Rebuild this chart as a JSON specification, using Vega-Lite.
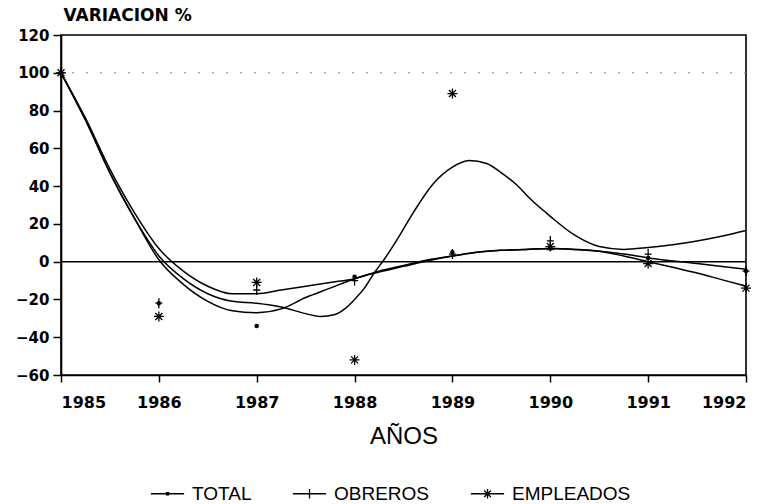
{
  "$schema": "https://vega.github.io/schema/vega-lite/v6.json",
  "width": 685,
  "height": 340,
  "autosize": {"type": "none"},
  "padding": {"left": 61, "top": 35, "right": 29, "bottom": 129},
  "background": "white",
  "config": {
    "view": {"stroke": "black", "strokeWidth": 1.6},
    "font": "DejaVu Sans",
    "axis": {"labelOverlap": false, "grid": false, "domainColor": "black", "domainWidth": 1.6, "tickColor": "black", "tickWidth": 1.5, "labelColor": "black", "titleColor": "black"},
    "axisX": {
      "format": "d",
      "tickSize": 7,
      "labelFont": "DejaVu Sans", "labelFontWeight": "bold", "labelFontSize": 16,
      "labelPadding": 12,
      "titleFont": "Liberation Sans", "titleFontSize": 24, "titleFontWeight": "normal",
      "titlePadding": 14
    },
    "axisY": {
      "labelFlush": false,
      "tickSize": 8,
      "labelFont": "DejaVu Sans", "labelFontWeight": "bold", "labelFontSize": 15,
      "labelPadding": 4,
      "titleFont": "DejaVu Sans", "titleFontSize": 17, "titleFontWeight": "bold",
      "titleAngle": 0, "titleAlign": "left", "titleBaseline": "middle",
      "titleX": 2, "titleY": -20
    }
  },
  "resolve": {"scale": {"shape": "independent"}},
  "datasets": {
    "curves": [
      {"s": "TOTAL", "x": 1985, "y": 100}, {"s": "TOTAL", "x": 1985.25, "y": 76}, {"s": "TOTAL", "x": 1985.5, "y": 49}, {"s": "TOTAL", "x": 1985.75, "y": 26},
      {"s": "TOTAL", "x": 1986, "y": 7}, {"s": "TOTAL", "x": 1986.25, "y": -5}, {"s": "TOTAL", "x": 1986.5, "y": -13}, {"s": "TOTAL", "x": 1986.75, "y": -17},
      {"s": "TOTAL", "x": 1987, "y": -17}, {"s": "TOTAL", "x": 1987.25, "y": -15}, {"s": "TOTAL", "x": 1987.5, "y": -13}, {"s": "TOTAL", "x": 1987.75, "y": -11},
      {"s": "TOTAL", "x": 1988, "y": -9}, {"s": "TOTAL", "x": 1988.25, "y": -5}, {"s": "TOTAL", "x": 1988.5, "y": -2}, {"s": "TOTAL", "x": 1988.75, "y": 1},
      {"s": "TOTAL", "x": 1989, "y": 3}, {"s": "TOTAL", "x": 1989.25, "y": 5}, {"s": "TOTAL", "x": 1989.5, "y": 6}, {"s": "TOTAL", "x": 1989.75, "y": 6.5},
      {"s": "TOTAL", "x": 1990, "y": 7}, {"s": "TOTAL", "x": 1990.25, "y": 6.5}, {"s": "TOTAL", "x": 1990.5, "y": 5.5}, {"s": "TOTAL", "x": 1990.75, "y": 4},
      {"s": "TOTAL", "x": 1991, "y": 2}, {"s": "TOTAL", "x": 1991.5, "y": -1}, {"s": "TOTAL", "x": 1992, "y": -4},
      {"s": "OBREROS", "x": 1985, "y": 100}, {"s": "OBREROS", "x": 1985.25, "y": 75}, {"s": "OBREROS", "x": 1985.5, "y": 47}, {"s": "OBREROS", "x": 1985.75, "y": 23},
      {"s": "OBREROS", "x": 1986, "y": 1}, {"s": "OBREROS", "x": 1986.25, "y": -12}, {"s": "OBREROS", "x": 1986.5, "y": -21}, {"s": "OBREROS", "x": 1986.75, "y": -26},
      {"s": "OBREROS", "x": 1987, "y": -27}, {"s": "OBREROS", "x": 1987.25, "y": -25}, {"s": "OBREROS", "x": 1987.5, "y": -19}, {"s": "OBREROS", "x": 1987.75, "y": -14},
      {"s": "OBREROS", "x": 1988, "y": -9}, {"s": "OBREROS", "x": 1988.25, "y": -5.5}, {"s": "OBREROS", "x": 1988.5, "y": -2.5}, {"s": "OBREROS", "x": 1988.75, "y": 0.5},
      {"s": "OBREROS", "x": 1989, "y": 3}, {"s": "OBREROS", "x": 1989.25, "y": 5}, {"s": "OBREROS", "x": 1989.5, "y": 6}, {"s": "OBREROS", "x": 1989.75, "y": 6.5},
      {"s": "OBREROS", "x": 1990, "y": 7}, {"s": "OBREROS", "x": 1990.25, "y": 6.5}, {"s": "OBREROS", "x": 1990.5, "y": 5.5}, {"s": "OBREROS", "x": 1990.75, "y": 3},
      {"s": "OBREROS", "x": 1991, "y": 0}, {"s": "OBREROS", "x": 1991.25, "y": -3}, {"s": "OBREROS", "x": 1991.5, "y": -6}, {"s": "OBREROS", "x": 1991.75, "y": -9.5},
      {"s": "OBREROS", "x": 1992, "y": -13},
      {"s": "EMPLEADOS", "x": 1985, "y": 100}, {"s": "EMPLEADOS", "x": 1985.25, "y": 75}, {"s": "EMPLEADOS", "x": 1985.5, "y": 47}, {"s": "EMPLEADOS", "x": 1985.75, "y": 23},
      {"s": "EMPLEADOS", "x": 1986, "y": 3}, {"s": "EMPLEADOS", "x": 1986.25, "y": -9}, {"s": "EMPLEADOS", "x": 1986.5, "y": -17}, {"s": "EMPLEADOS", "x": 1986.75, "y": -21},
      {"s": "EMPLEADOS", "x": 1987, "y": -22}, {"s": "EMPLEADOS", "x": 1987.25, "y": -24}, {"s": "EMPLEADOS", "x": 1987.5, "y": -27.5}, {"s": "EMPLEADOS", "x": 1987.65, "y": -29},
      {"s": "EMPLEADOS", "x": 1987.8, "y": -28}, {"s": "EMPLEADOS", "x": 1987.9, "y": -25}, {"s": "EMPLEADOS", "x": 1988, "y": -20}, {"s": "EMPLEADOS", "x": 1988.1, "y": -14},
      {"s": "EMPLEADOS", "x": 1988.2, "y": -6}, {"s": "EMPLEADOS", "x": 1988.3, "y": 1}, {"s": "EMPLEADOS", "x": 1988.45, "y": 13}, {"s": "EMPLEADOS", "x": 1988.6, "y": 26},
      {"s": "EMPLEADOS", "x": 1988.8, "y": 41}, {"s": "EMPLEADOS", "x": 1989, "y": 50}, {"s": "EMPLEADOS", "x": 1989.17, "y": 53.5}, {"s": "EMPLEADOS", "x": 1989.35, "y": 52},
      {"s": "EMPLEADOS", "x": 1989.5, "y": 47}, {"s": "EMPLEADOS", "x": 1989.65, "y": 41}, {"s": "EMPLEADOS", "x": 1989.8, "y": 33}, {"s": "EMPLEADOS", "x": 1990, "y": 24},
      {"s": "EMPLEADOS", "x": 1990.25, "y": 14}, {"s": "EMPLEADOS", "x": 1990.5, "y": 8}, {"s": "EMPLEADOS", "x": 1990.75, "y": 6.5}, {"s": "EMPLEADOS", "x": 1991, "y": 7.5},
      {"s": "EMPLEADOS", "x": 1991.25, "y": 9}, {"s": "EMPLEADOS", "x": 1991.5, "y": 11}, {"s": "EMPLEADOS", "x": 1991.75, "y": 13.5}, {"s": "EMPLEADOS", "x": 1992, "y": 16.5}
    ],
    "points": [
      {"s": "TOTAL", "x": 1985, "y": 100}, {"s": "TOTAL", "x": 1986, "y": -22}, {"s": "TOTAL", "x": 1987, "y": -34}, {"s": "TOTAL", "x": 1988, "y": -8},
      {"s": "TOTAL", "x": 1989, "y": 5}, {"s": "TOTAL", "x": 1990, "y": 7}, {"s": "TOTAL", "x": 1991, "y": 2}, {"s": "TOTAL", "x": 1992, "y": -5},
      {"s": "OBREROS", "x": 1985, "y": 100}, {"s": "OBREROS", "x": 1986, "y": -22}, {"s": "OBREROS", "x": 1987, "y": -15}, {"s": "OBREROS", "x": 1988, "y": -10},
      {"s": "OBREROS", "x": 1989, "y": 4}, {"s": "OBREROS", "x": 1990, "y": 11}, {"s": "OBREROS", "x": 1991, "y": 4}, {"s": "OBREROS", "x": 1992, "y": -5},
      {"s": "EMPLEADOS", "x": 1985, "y": 100}, {"s": "EMPLEADOS", "x": 1986, "y": -29}, {"s": "EMPLEADOS", "x": 1987, "y": -11}, {"s": "EMPLEADOS", "x": 1988, "y": -52},
      {"s": "EMPLEADOS", "x": 1989, "y": 89}, {"s": "EMPLEADOS", "x": 1990, "y": 8}, {"s": "EMPLEADOS", "x": 1991, "y": -1}, {"s": "EMPLEADOS", "x": 1992, "y": -14}
    ],
    "zero": [{"y": 0}],
    "hundred": [{"y": 100}]
  },
  "layer": [
    {
      "data": {"name": "curves"},
      "mark": {"type": "line", "color": "black", "strokeWidth": 1.5, "interpolate": "monotone"},
      "encoding": {
        "x": {
          "field": "x", "type": "quantitative",
          "scale": {"domain": [1985, 1992], "nice": false, "zero": false},
          "title": "AÑOS",
          "axis": {"values": [1985, 1986, 1987, 1988, 1989, 1990, 1991, 1992]}
        },
        "y": {
          "field": "y", "type": "quantitative",
          "scale": {"domain": [-60, 120], "nice": false, "zero": false},
          "title": "VARIACION %"
        },
        "detail": {"field": "s", "type": "nominal"}
      }
    },
    {
      "data": {"name": "hundred"},
      "mark": {"type": "rule", "color": "#888888", "strokeWidth": 1, "strokeDash": [2, 12]},
      "encoding": {"y": {"field": "y", "type": "quantitative", "title": "VARIACION %"}}
    },
    {
      "data": {"name": "zero"},
      "mark": {"type": "rule", "color": "black", "strokeWidth": 1.5},
      "encoding": {"y": {"field": "y", "type": "quantitative", "title": "VARIACION %"}}
    },
    {
      "data": {"name": "points"},
      "mark": {"type": "point", "fill": "black", "stroke": "black", "strokeWidth": 1.3, "opacity": 1, "size": 100},
      "encoding": {
        "x": {"field": "x", "type": "quantitative", "title": "AÑOS"},
        "y": {"field": "y", "type": "quantitative", "title": "VARIACION %"},
        "shape": {
          "field": "s", "type": "nominal",
          "scale": {
            "domain": ["TOTAL", "OBREROS", "EMPLEADOS"],
            "range": [
              "M0.32,0A0.32,0.32 0 1,1 -0.32,0A0.32,0.32 0 1,1 0.32,0Z",
              "M-0.7,0L0.7,0M0,-1L0,1",
              "M-1,0L1,0M0,-1L0,1M-0.7,-0.7L0.7,0.7M-0.7,0.7L0.7,-0.7"
            ]
          },
          "legend": null
        }
      }
    },
    {
      "data": {"name": "points"},
      "mark": {"type": "point", "color": "black", "filled": false, "strokeWidth": 1.3, "opacity": 0},
      "encoding": {
        "x": {"field": "x", "type": "quantitative", "title": "AÑOS"},
        "y": {"field": "y", "type": "quantitative", "title": "VARIACION %"},
        "shape": {
          "field": "s", "type": "nominal",
          "scale": {
            "domain": ["TOTAL", "OBREROS", "EMPLEADOS"],
            "range": [
              "M-1,0L1,0M-0.06,-0.06L0.06,-0.06L0.06,0.06L-0.06,0.06Z",
              "M-1,0L1,0M0,-0.28L0,0.28",
              "M-1,0L1,0M0,-0.28L0,0.28M-0.2,-0.2L0.2,0.2M-0.2,0.2L0.2,-0.2"
            ]
          },
          "legend": {
            "title": null,
            "orient": "none",
            "direction": "horizontal",
            "legendX": 89,
            "legendY": 441,
            "columnPadding": 38,
            "labelOffset": 7,
            "labelFont": "Liberation Sans",
            "labelFontSize": 19,
            "labelColor": "black",
            "labelLimit": 300,
            "symbolSize": 1100,
            "symbolStrokeColor": "black",
            "symbolStrokeWidth": 1.3,
            "symbolOpacity": 1
          }
        }
      }
    }
  ]
}
